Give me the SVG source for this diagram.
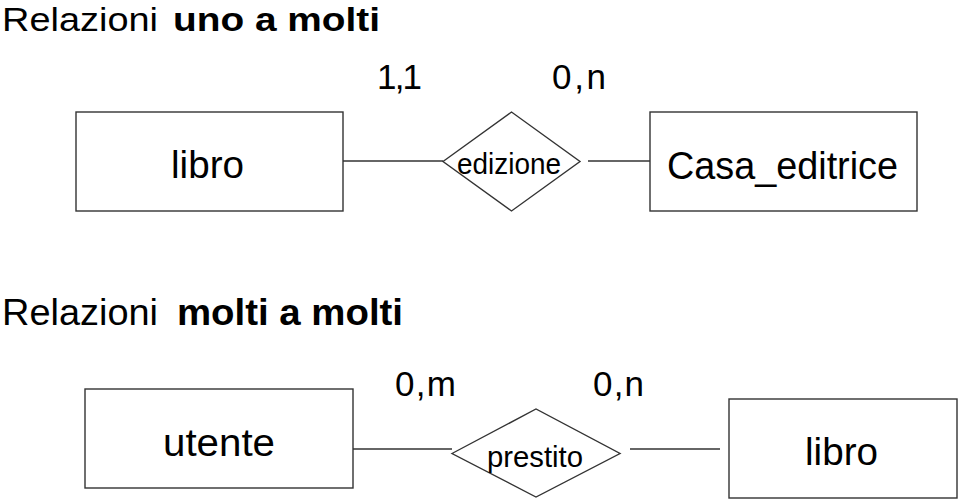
<svg xmlns="http://www.w3.org/2000/svg" width="960" height="501" viewBox="0 0 960 501">
<style>
text{font-family:"Liberation Sans",Arial,sans-serif;fill:#000}
.b{font-weight:bold}
.shape{fill:#fff;stroke:#333;stroke-width:1.4}
.conn line{stroke:#333;stroke-width:1.4}
</style>
<rect width="960" height="501" fill="#fff"/>
<g id="title1">
<text x="2" y="31" font-size="34" textLength="156" lengthAdjust="spacingAndGlyphs">Relazioni</text>
<text class="b" x="173" y="31" font-size="34" textLength="207" lengthAdjust="spacingAndGlyphs">uno a molti</text>
</g>
<g id="title2">
<text x="2" y="325" font-size="36" textLength="156" lengthAdjust="spacingAndGlyphs">Relazioni</text>
<text class="b" x="177" y="325" font-size="36" textLength="226" lengthAdjust="spacingAndGlyphs">molti a molti</text>
</g>
<g class="conn" id="connectors">
<line x1="343" y1="161" x2="443" y2="161"/>
<line x1="588" y1="161" x2="650" y2="161"/>
<line x1="353" y1="449" x2="452" y2="449"/>
<line x1="630" y1="449" x2="720" y2="449"/>
</g>
<g id="card">
<text x="377" y="89" font-size="35" textLength="45" lengthAdjust="spacing">1,1</text>
<text x="552" y="89" font-size="35" textLength="54" lengthAdjust="spacing">0,n</text>
<text x="395" y="396" font-size="35" textLength="61" lengthAdjust="spacing">0,m</text>
<text x="593" y="396" font-size="35" textLength="51" lengthAdjust="spacing">0,n</text>
</g>
<g id="libro1">
<rect class="shape" x="76" y="112" width="267" height="99"/>
<text x="171" y="178" font-size="38" textLength="73" lengthAdjust="spacingAndGlyphs">libro</text>
</g>
<g id="edizione">
<polygon class="shape" points="443,161.5 511.5,112 580,161.5 511.5,211"/>
<text x="457" y="174" font-size="30" textLength="104" lengthAdjust="spacingAndGlyphs">edizione</text>
</g>
<g id="casa_editrice">
<rect class="shape" x="650" y="112" width="267" height="99"/>
<text x="667" y="179" font-size="38" textLength="231" lengthAdjust="spacingAndGlyphs">Casa_editrice</text>
</g>
<g id="utente">
<rect class="shape" x="85" y="389" width="268" height="99"/>
<text x="163" y="456" font-size="38" textLength="112" lengthAdjust="spacingAndGlyphs">utente</text>
</g>
<g id="prestito">
<polygon class="shape" points="452,453.5 536,409 620,453.5 536,497"/>
<text x="487" y="467" font-size="29" textLength="96" lengthAdjust="spacingAndGlyphs">prestito</text>
</g>
<g id="libro2">
<rect class="shape" x="729" y="399" width="228" height="99"/>
<text x="805" y="465" font-size="38" textLength="73" lengthAdjust="spacingAndGlyphs">libro</text>
</g>
</svg>
